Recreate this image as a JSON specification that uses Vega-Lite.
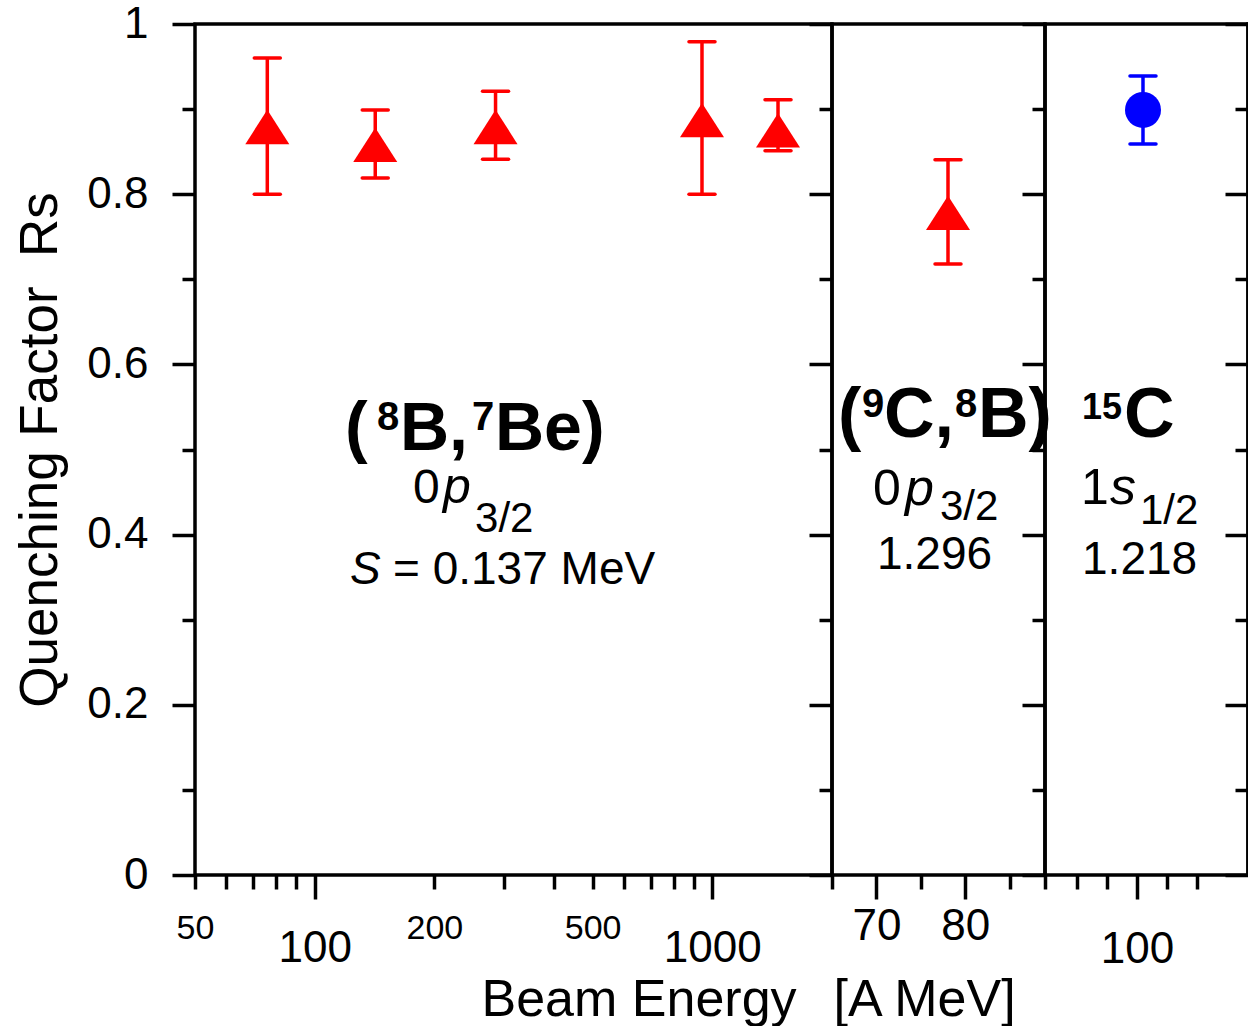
{
  "$schema": "https://vega.github.io/schema/vega-lite/v6.json",
  "padding": {"left": 12, "top": 0, "right": 0, "bottom": 0},
  "bounds": "flush",
  "spacing": 0,
  "resolve": {"scale": {"x": "independent", "y": "independent"}},
  "config": {
    "font": "Liberation Sans",
    "view": {"stroke": "#000000", "strokeWidth": 3.5},
    "axis": {"domain": false, "grid": false, "tickColor": "#000000", "tickWidth": 3.5, "labelColor": "#000000", "titleColor": "#000000", "labelFont": "Liberation Sans", "titleFont": "Liberation Sans", "titleFontWeight": "normal", "labelFlush": false, "labelOverlap": false, "labelBound": false},
    "text": {"font": "Liberation Sans", "color": "#000000"}
  },
  "datasets": {
    "pts": [
      {"panel": "B8", "energy": 76, "rs": 0.879, "lo": 0.80, "hi": 0.96},
      {"panel": "B8", "energy": 142, "rs": 0.858, "lo": 0.819, "hi": 0.899},
      {"panel": "B8", "energy": 285, "rs": 0.879, "lo": 0.841, "hi": 0.921},
      {"panel": "B8", "energy": 942, "rs": 0.887, "lo": 0.80, "hi": 0.979},
      {"panel": "B8", "energy": 1463, "rs": 0.875, "lo": 0.851, "hi": 0.911},
      {"panel": "C9", "energy": 78.07, "rs": 0.778, "lo": 0.718, "hi": 0.8405},
      {"panel": "C15", "energy": 101, "rs": 0.899, "lo": 0.859, "hi": 0.939}
    ],
    "ann": [
      {"panel": "B8", "part": "head", "label": "(", "energy": 119.2, "rs": 0.4994},
      {"panel": "B8", "part": "head", "label": "B,", "energy": 163.9, "rs": 0.4994},
      {"panel": "B8", "part": "head", "label": "Be)", "energy": 284.1, "rs": 0.4994},
      {"panel": "B8", "part": "sup", "label": "8", "energy": 143.5, "rs": 0.5229},
      {"panel": "B8", "part": "sup", "label": "7", "energy": 248.7, "rs": 0.5229},
      {"panel": "B8", "part": "num", "label": "0", "energy": 176.7, "rs": 0.4371},
      {"panel": "B8", "part": "ital", "label": "p", "energy": 210.2, "rs": 0.4371},
      {"panel": "B8", "part": "sub", "label": "3/2", "energy": 253.1, "rs": 0.4031},
      {"panel": "B8", "part": "ital2", "label": "S", "energy": 122.7, "rs": 0.342},
      {"panel": "B8", "part": "val", "label": "= 0.137 MeV", "energy": 157.4, "rs": 0.342},
      {"panel": "C9", "part": "head", "label": "(", "energy": 65.68, "rs": 0.5147},
      {"panel": "C9", "part": "head", "label": "C,", "energy": 70.86, "rs": 0.5147},
      {"panel": "C9", "part": "head", "label": "B)", "energy": 81.45, "rs": 0.5147},
      {"panel": "C9", "part": "sup", "label": "9", "energy": 68.38, "rs": 0.5382},
      {"panel": "C9", "part": "sup", "label": "8", "energy": 78.86, "rs": 0.5382},
      {"panel": "C9", "part": "num", "label": "0", "energy": 69.62, "rs": 0.4348},
      {"panel": "C9", "part": "ital", "label": "p", "energy": 73.23, "rs": 0.4348},
      {"panel": "C9", "part": "sub", "label": "3/2", "energy": 77.17, "rs": 0.4172},
      {"panel": "C9", "part": "val", "label": "1.296", "energy": 70.07, "rs": 0.3596},
      {"panel": "C15", "part": "sup", "label": "15", "energy": 90.84, "rs": 0.5358},
      {"panel": "C15", "part": "head", "label": "C", "energy": 97.83, "rs": 0.5147},
      {"panel": "C15", "part": "num", "label": "1", "energy": 90.67, "rs": 0.436},
      {"panel": "C15", "part": "ital", "label": "s", "energy": 95.5, "rs": 0.436},
      {"panel": "C15", "part": "sub", "label": "1/2", "energy": 100.5, "rs": 0.4125},
      {"panel": "C15", "part": "val", "label": "1.218", "energy": 90.84, "rs": 0.3537}
    ]
  },
  "hconcat": [
    {
      "width": 637, "height": 851,
      "encoding": {
        "x": {"field": "energy", "type": "quantitative",
          "scale": {"type": "log", "domain": [50, 2000], "nice": false},
          "axis": {"values": [50, 60, 70, 80, 90, 100, 200, 300, 400, 500, 600, 700, 800, 900, 1000],
            "tickSize": {"condition": {"test": "datum.value == 100 || datum.value == 1000", "value": 24}, "value": 14},
            "labelExpr": "indexof([50, 100, 200, 500, 1000], datum.value) >= 0 ? format(datum.value, 'd') : ''",
            "labelFontSize": {"condition": {"test": "datum.value == 100 || datum.value == 1000", "value": 44}, "value": 34},
            "labelPadding": {"condition": {"test": "datum.value == 100 || datum.value == 1000", "value": 27}, "value": 22},
            "title": "Beam Energy", "titleFontSize": 52, "titleAlign": "left", "titleBaseline": "alphabetic", "titleX": 286, "titleY": 140}},
        "y": {"field": "rs", "type": "quantitative",
          "scale": {"domain": [0, 1], "nice": false, "zero": false},
          "axis": {"values": [0, 0.1, 0.2, 0.3, 0.4, 0.5, 0.6, 0.7, 0.8, 0.9, 1],
            "tickSize": {"condition": {"test": "round(datum.value * 10) % 2 == 1", "value": 13}, "value": 23},
            "labelExpr": "round(datum.value * 10) % 2 == 1 ? '' : (datum.value == 0 ? '0' : (datum.value == 1 ? '1' : format(datum.value, '.1f')))",
            "labelFontSize": 44, "labelPadding": 24,
            "title": "Quenching Factor \u00a0Rs", "titleFontSize": 53, "titleAngle": -90, "titleAlign": "center", "titleBaseline": "alphabetic", "titleX": -139, "titleY": 425.5}}
      },
      "layer": [
        {"data": {"name": "pts"}, "transform": [{"filter": "datum.panel == 'B8'"}],
          "mark": {"type": "point", "shape": "M-1,0.78L0,-0.78L1,0.78Z", "size": 1936, "filled": true, "color": "#ff0000", "opacity": 1, "strokeWidth": 0}},
        {"data": {"name": "pts"}, "transform": [{"filter": "datum.panel == 'B8'"}],
          "mark": {"type": "rule", "color": "#ff0000", "strokeWidth": 3.5},
          "encoding": {"y": {"field": "lo", "type": "quantitative", "scale": {"domain": [0, 1], "nice": false, "zero": false},
            "axis": {"values": [0, 0.1, 0.2, 0.3, 0.4, 0.5, 0.6, 0.7, 0.8, 0.9, 1],
              "tickSize": {"condition": {"test": "round(datum.value * 10) % 2 == 1", "value": 13}, "value": 23},
              "labelExpr": "round(datum.value * 10) % 2 == 1 ? '' : (datum.value == 0 ? '0' : (datum.value == 1 ? '1' : format(datum.value, '.1f')))",
              "labelFontSize": 44, "labelPadding": 24,
              "title": "Quenching Factor \u00a0Rs", "titleFontSize": 53, "titleAngle": -90, "titleAlign": "center", "titleBaseline": "alphabetic", "titleX": -139, "titleY": 425.5}},
            "y2": {"field": "hi"}}},
        {"data": {"name": "pts"}, "transform": [{"filter": "datum.panel == 'B8'"}],
          "mark": {"type": "point", "shape": "M-1,0L1,0", "size": 676, "filled": false, "color": "#ff0000", "strokeWidth": 3.5, "strokeCap": "round", "opacity": 1},
          "encoding": {"y": {"field": "lo", "type": "quantitative", "scale": {"domain": [0, 1], "nice": false, "zero": false},
            "axis": {"values": [0, 0.1, 0.2, 0.3, 0.4, 0.5, 0.6, 0.7, 0.8, 0.9, 1],
              "tickSize": {"condition": {"test": "round(datum.value * 10) % 2 == 1", "value": 13}, "value": 23},
              "labelExpr": "round(datum.value * 10) % 2 == 1 ? '' : (datum.value == 0 ? '0' : (datum.value == 1 ? '1' : format(datum.value, '.1f')))",
              "labelFontSize": 44, "labelPadding": 24,
              "title": "Quenching Factor \u00a0Rs", "titleFontSize": 53, "titleAngle": -90, "titleAlign": "center", "titleBaseline": "alphabetic", "titleX": -139, "titleY": 425.5}}}},
        {"data": {"name": "pts"}, "transform": [{"filter": "datum.panel == 'B8'"}],
          "mark": {"type": "point", "shape": "M-1,0L1,0", "size": 676, "filled": false, "color": "#ff0000", "strokeWidth": 3.5, "strokeCap": "round", "opacity": 1},
          "encoding": {"y": {"field": "hi", "type": "quantitative", "scale": {"domain": [0, 1], "nice": false, "zero": false},
            "axis": {"values": [0, 0.1, 0.2, 0.3, 0.4, 0.5, 0.6, 0.7, 0.8, 0.9, 1],
              "tickSize": {"condition": {"test": "round(datum.value * 10) % 2 == 1", "value": 13}, "value": 23},
              "labelExpr": "round(datum.value * 10) % 2 == 1 ? '' : (datum.value == 0 ? '0' : (datum.value == 1 ? '1' : format(datum.value, '.1f')))",
              "labelFontSize": 44, "labelPadding": 24,
              "title": "Quenching Factor \u00a0Rs", "titleFontSize": 53, "titleAngle": -90, "titleAlign": "center", "titleBaseline": "alphabetic", "titleX": -139, "titleY": 425.5}}}},
        {"data": {"name": "ann"}, "transform": [{"filter": "datum.panel == 'B8' && datum.part == 'head'"}],
          "mark": {"type": "text", "align": "left", "baseline": "alphabetic", "fontSize": 68, "fontWeight": "bold"},
          "encoding": {"text": {"field": "label"}}},
        {"data": {"name": "ann"}, "transform": [{"filter": "datum.panel == 'B8' && datum.part == 'sup'"}],
          "mark": {"type": "text", "align": "left", "baseline": "alphabetic", "fontSize": 40, "fontWeight": "bold"},
          "encoding": {"text": {"field": "label"}}},
        {"data": {"name": "ann"}, "transform": [{"filter": "datum.panel == 'B8' && datum.part == 'num'"}],
          "mark": {"type": "text", "align": "left", "baseline": "alphabetic", "fontSize": 48},
          "encoding": {"text": {"field": "label"}}},
        {"data": {"name": "ann"}, "transform": [{"filter": "datum.panel == 'B8' && datum.part == 'ital'"}],
          "mark": {"type": "text", "align": "left", "baseline": "alphabetic", "fontSize": 50, "fontStyle": "italic"},
          "encoding": {"text": {"field": "label"}}},
        {"data": {"name": "ann"}, "transform": [{"filter": "datum.panel == 'B8' && datum.part == 'sub'"}],
          "mark": {"type": "text", "align": "left", "baseline": "alphabetic", "fontSize": 42},
          "encoding": {"text": {"field": "label"}}},
        {"data": {"name": "ann"}, "transform": [{"filter": "datum.panel == 'B8' && datum.part == 'ital2'"}],
          "mark": {"type": "text", "align": "left", "baseline": "alphabetic", "fontSize": 46, "fontStyle": "italic"},
          "encoding": {"text": {"field": "label"}}},
        {"data": {"name": "ann"}, "transform": [{"filter": "datum.panel == 'B8' && datum.part == 'val'"}],
          "mark": {"type": "text", "align": "left", "baseline": "alphabetic", "fontSize": 46},
          "encoding": {"text": {"field": "label"}}}
      ]
    },
    {
      "width": 213, "height": 851,
      "encoding": {
        "x": {"field": "energy", "type": "quantitative",
          "scale": {"domain": [65, 89], "nice": false, "zero": false},
          "axis": {"values": [65, 70, 75, 80, 85],
            "tickSize": {"condition": {"test": "datum.value == 70 || datum.value == 80", "value": 24}, "value": 14},
            "labelExpr": "datum.value == 70 || datum.value == 80 ? format(datum.value, 'd') : ''",
            "labelFontSize": 44, "labelPadding": 5,
            "title": "[A MeV]", "titleFontSize": 52, "titleAlign": "left", "titleBaseline": "alphabetic", "titleX": 1, "titleY": 140}},
        "y": {"field": "rs", "type": "quantitative",
          "scale": {"domain": [0, 1], "nice": false, "zero": false},
          "axis": {"values": [0, 0.1, 0.2, 0.3, 0.4, 0.5, 0.6, 0.7, 0.8, 0.9, 1],
            "tickSize": {"condition": {"test": "round(datum.value * 10) % 2 == 1", "value": 13}, "value": 23},
            "labels": false, "title": null}}
      },
      "layer": [
        {"data": {"name": "pts"}, "transform": [{"filter": "datum.panel == 'C9'"}],
          "mark": {"type": "point", "shape": "M-1,0.78L0,-0.78L1,0.78Z", "size": 1936, "filled": true, "color": "#ff0000", "opacity": 1, "strokeWidth": 0}},
        {"data": {"name": "pts"}, "transform": [{"filter": "datum.panel == 'C9'"}],
          "mark": {"type": "rule", "color": "#ff0000", "strokeWidth": 3.5},
          "encoding": {"y": {"field": "lo", "type": "quantitative", "scale": {"domain": [0, 1], "nice": false, "zero": false},
            "axis": {"values": [0, 0.1, 0.2, 0.3, 0.4, 0.5, 0.6, 0.7, 0.8, 0.9, 1],
              "tickSize": {"condition": {"test": "round(datum.value * 10) % 2 == 1", "value": 13}, "value": 23},
              "labels": false, "title": null}},
            "y2": {"field": "hi"}}},
        {"data": {"name": "pts"}, "transform": [{"filter": "datum.panel == 'C9'"}],
          "mark": {"type": "point", "shape": "M-1,0L1,0", "size": 676, "filled": false, "color": "#ff0000", "strokeWidth": 3.5, "strokeCap": "round", "opacity": 1},
          "encoding": {"y": {"field": "lo", "type": "quantitative", "scale": {"domain": [0, 1], "nice": false, "zero": false},
            "axis": {"values": [0, 0.1, 0.2, 0.3, 0.4, 0.5, 0.6, 0.7, 0.8, 0.9, 1],
              "tickSize": {"condition": {"test": "round(datum.value * 10) % 2 == 1", "value": 13}, "value": 23},
              "labels": false, "title": null}}}},
        {"data": {"name": "pts"}, "transform": [{"filter": "datum.panel == 'C9'"}],
          "mark": {"type": "point", "shape": "M-1,0L1,0", "size": 676, "filled": false, "color": "#ff0000", "strokeWidth": 3.5, "strokeCap": "round", "opacity": 1},
          "encoding": {"y": {"field": "hi", "type": "quantitative", "scale": {"domain": [0, 1], "nice": false, "zero": false},
            "axis": {"values": [0, 0.1, 0.2, 0.3, 0.4, 0.5, 0.6, 0.7, 0.8, 0.9, 1],
              "tickSize": {"condition": {"test": "round(datum.value * 10) % 2 == 1", "value": 13}, "value": 23},
              "labels": false, "title": null}}}},
        {"data": {"name": "ann"}, "transform": [{"filter": "datum.panel == 'C9' && datum.part == 'head'"}],
          "mark": {"type": "text", "align": "left", "baseline": "alphabetic", "fontSize": 70, "fontWeight": "bold"},
          "encoding": {"text": {"field": "label"}}},
        {"data": {"name": "ann"}, "transform": [{"filter": "datum.panel == 'C9' && datum.part == 'sup'"}],
          "mark": {"type": "text", "align": "left", "baseline": "alphabetic", "fontSize": 40, "fontWeight": "bold"},
          "encoding": {"text": {"field": "label"}}},
        {"data": {"name": "ann"}, "transform": [{"filter": "datum.panel == 'C9' && datum.part == 'num'"}],
          "mark": {"type": "text", "align": "left", "baseline": "alphabetic", "fontSize": 50},
          "encoding": {"text": {"field": "label"}}},
        {"data": {"name": "ann"}, "transform": [{"filter": "datum.panel == 'C9' && datum.part == 'ital'"}],
          "mark": {"type": "text", "align": "left", "baseline": "alphabetic", "fontSize": 52, "fontStyle": "italic"},
          "encoding": {"text": {"field": "label"}}},
        {"data": {"name": "ann"}, "transform": [{"filter": "datum.panel == 'C9' && datum.part == 'sub'"}],
          "mark": {"type": "text", "align": "left", "baseline": "alphabetic", "fontSize": 42},
          "encoding": {"text": {"field": "label"}}},
        {"data": {"name": "ann"}, "transform": [{"filter": "datum.panel == 'C9' && datum.part == 'val'"}],
          "mark": {"type": "text", "align": "left", "baseline": "alphabetic", "fontSize": 46},
          "encoding": {"text": {"field": "label"}}}
      ]
    },
    {
      "width": 203, "height": 851,
      "encoding": {
        "x": {"field": "energy", "type": "quantitative",
          "scale": {"domain": [84.67, 118.5], "nice": false, "zero": false},
          "axis": {"values": [84.67, 90, 95, 100, 105, 110],
            "tickSize": {"condition": {"test": "datum.value == 100", "value": 24}, "value": 14},
            "labelExpr": "datum.value == 100 ? '100' : ''",
            "labelFontSize": 44, "labelPadding": 28, "title": null}},
        "y": {"field": "rs", "type": "quantitative",
          "scale": {"domain": [0, 1], "nice": false, "zero": false},
          "axis": {"values": [0, 0.1, 0.2, 0.3, 0.4, 0.5, 0.6, 0.7, 0.8, 0.9, 1],
            "tickSize": {"condition": {"test": "round(datum.value * 10) % 2 == 1", "value": 13}, "value": 23},
            "labels": false, "title": null}}
      },
      "layer": [
        {"data": {"name": "pts"}, "transform": [{"filter": "datum.panel == 'C15'"}],
          "mark": {"type": "point", "shape": "circle", "size": 1296, "filled": true, "color": "#0000ff", "opacity": 1, "strokeWidth": 0}},
        {"data": {"name": "pts"}, "transform": [{"filter": "datum.panel == 'C15'"}],
          "mark": {"type": "rule", "color": "#0000ff", "strokeWidth": 3.5},
          "encoding": {"y": {"field": "lo", "type": "quantitative", "scale": {"domain": [0, 1], "nice": false, "zero": false},
            "axis": {"values": [0, 0.1, 0.2, 0.3, 0.4, 0.5, 0.6, 0.7, 0.8, 0.9, 1],
              "tickSize": {"condition": {"test": "round(datum.value * 10) % 2 == 1", "value": 13}, "value": 23},
              "labels": false, "title": null}},
            "y2": {"field": "hi"}}},
        {"data": {"name": "pts"}, "transform": [{"filter": "datum.panel == 'C15'"}],
          "mark": {"type": "point", "shape": "M-1,0L1,0", "size": 676, "filled": false, "color": "#0000ff", "strokeWidth": 3.5, "strokeCap": "round", "opacity": 1},
          "encoding": {"y": {"field": "lo", "type": "quantitative", "scale": {"domain": [0, 1], "nice": false, "zero": false},
            "axis": {"values": [0, 0.1, 0.2, 0.3, 0.4, 0.5, 0.6, 0.7, 0.8, 0.9, 1],
              "tickSize": {"condition": {"test": "round(datum.value * 10) % 2 == 1", "value": 13}, "value": 23},
              "labels": false, "title": null}}}},
        {"data": {"name": "pts"}, "transform": [{"filter": "datum.panel == 'C15'"}],
          "mark": {"type": "point", "shape": "M-1,0L1,0", "size": 676, "filled": false, "color": "#0000ff", "strokeWidth": 3.5, "strokeCap": "round", "opacity": 1},
          "encoding": {"y": {"field": "hi", "type": "quantitative", "scale": {"domain": [0, 1], "nice": false, "zero": false},
            "axis": {"values": [0, 0.1, 0.2, 0.3, 0.4, 0.5, 0.6, 0.7, 0.8, 0.9, 1],
              "tickSize": {"condition": {"test": "round(datum.value * 10) % 2 == 1", "value": 13}, "value": 23},
              "labels": false, "title": null}}}},
        {"data": {"name": "ann"}, "transform": [{"filter": "datum.panel == 'C15' && datum.part == 'head'"}],
          "mark": {"type": "text", "align": "left", "baseline": "alphabetic", "fontSize": 70, "fontWeight": "bold"},
          "encoding": {"text": {"field": "label"}}},
        {"data": {"name": "ann"}, "transform": [{"filter": "datum.panel == 'C15' && datum.part == 'sup'"}],
          "mark": {"type": "text", "align": "left", "baseline": "alphabetic", "fontSize": 36, "fontWeight": "bold"},
          "encoding": {"text": {"field": "label"}}},
        {"data": {"name": "ann"}, "transform": [{"filter": "datum.panel == 'C15' && datum.part == 'num'"}],
          "mark": {"type": "text", "align": "left", "baseline": "alphabetic", "fontSize": 50},
          "encoding": {"text": {"field": "label"}}},
        {"data": {"name": "ann"}, "transform": [{"filter": "datum.panel == 'C15' && datum.part == 'ital'"}],
          "mark": {"type": "text", "align": "left", "baseline": "alphabetic", "fontSize": 52, "fontStyle": "italic"},
          "encoding": {"text": {"field": "label"}}},
        {"data": {"name": "ann"}, "transform": [{"filter": "datum.panel == 'C15' && datum.part == 'sub'"}],
          "mark": {"type": "text", "align": "left", "baseline": "alphabetic", "fontSize": 42},
          "encoding": {"text": {"field": "label"}}},
        {"data": {"name": "ann"}, "transform": [{"filter": "datum.panel == 'C15' && datum.part == 'val'"}],
          "mark": {"type": "text", "align": "left", "baseline": "alphabetic", "fontSize": 46},
          "encoding": {"text": {"field": "label"}}}
      ]
    },
    {
      "width": 100, "height": 851,
      "data": {"name": "pts"},
      "transform": [{"filter": "datum.panel == 'none'"}],
      "mark": {"type": "point", "opacity": 0},
      "encoding": {
        "x": {"field": "energy", "type": "quantitative", "scale": {"domain": [0, 1], "nice": false, "zero": false}, "axis": null},
        "y": {"field": "rs", "type": "quantitative",
          "scale": {"domain": [0, 1], "nice": false, "zero": false},
          "axis": {"values": [0, 0.1, 0.2, 0.3, 0.4, 0.5, 0.6, 0.7, 0.8, 0.9, 1],
            "tickSize": {"condition": {"test": "round(datum.value * 10) % 2 == 1", "value": 13}, "value": 23},
            "labels": false, "title": null}}
      }
    }
  ]
}
